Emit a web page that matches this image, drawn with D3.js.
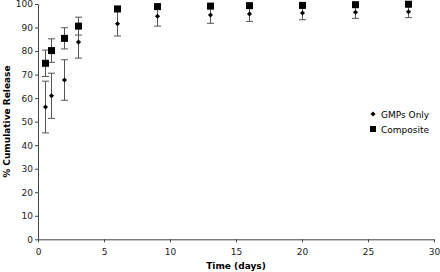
<!DOCTYPE html>
<html lang="en">
<head>
<meta charset="utf-8">
<title>Cumulative Release</title>
<script src="https://d3js.org/d3.v7.min.js"></script>
<style>
  body { margin: 0; background: #fff; }
  text { font-family: "DejaVu Sans", Verdana, sans-serif; }
</style>
</head>
<body>
<script>
// data
const days = [0.5, 1, 2, 3, 6, 9, 13, 16, 20, 24, 28];
const gmpValues = [56.2, 61.0, 67.7, 83.8, 91.6, 94.8, 95.3, 95.8, 96.2, 96.5, 96.7];
const gmpErrors = [11.0, 9.6, 8.6, 6.8, 5.2, 4.2, 3.5, 3.2, 2.9, 2.6, 2.5];
const compValues = [74.8, 80.2, 85.4, 90.6, 97.9, 98.9, 99.1, 99.3, 99.4, 99.7, 99.9];
const compErrors = [5.6, 5.0, 4.5, 3.8, 1.0, 0.8, 0.8, 0.7, 0.6, 0.5, 0.5];
const xTicks = [0, 5, 10, 15, 20, 25, 30];
const yTicks = [0, 10, 20, 30, 40, 50, 60, 70, 80, 90, 100];

const width = 440, height = 272;
const plotLeft = 38, plotRight = 434, plotTop = 4, plotBottom = 239.3;

const svg = d3.select("body").append("svg")
    .attr("width", width)
    .attr("height", height);

const x = d3.scaleLinear().domain([0, 30]).range([plotLeft, plotRight]);
const y = d3.scaleLinear().domain([0, 100]).range([plotBottom, plotTop]);

// axes
const xAxis = svg.append("g")
    .attr("transform", "translate(0," + plotBottom + ")")
    .call(d3.axisBottom(x).tickValues(xTicks).tickSize(3).tickSizeOuter(0));
const yAxis = svg.append("g")
    .attr("transform", "translate(" + plotLeft + ",0)")
    .call(d3.axisLeft(y).tickValues(yTicks).tickSize(3).tickSizeOuter(0));

[xAxis, yAxis].forEach(g => {
    g.select(".domain").attr("stroke", "#444");
    g.selectAll(".tick line").attr("stroke", "#444");
    g.selectAll(".tick text").attr("fill", "#222").attr("font-size", "9px")
        .attr("font-family", "DejaVu Sans, Verdana, sans-serif");
});
xAxis.selectAll(".tick text").attr("dy", "0").attr("y", 16);
yAxis.selectAll(".tick text").attr("x", -5);

// axis titles
svg.append("text")
    .attr("x", (plotLeft + plotRight) / 2)
    .attr("y", 269)
    .attr("text-anchor", "middle")
    .attr("font-size", "9px")
    .attr("font-weight", "bold")
    .text("Time (days)");

svg.append("text")
    .attr("transform", "translate(10," + ((plotTop + plotBottom) / 2) + ") rotate(-90)")
    .attr("text-anchor", "middle")
    .attr("font-size", "9px")
    .attr("font-weight", "bold")
    .text("% Cumulative Release");

// error bars
function errorBars(vals, errs, cls) {
    const g = svg.append("g").attr("class", cls).attr("stroke", "#555").attr("stroke-width", 1);
    days.forEach((d, i) => {
        const cx = Math.round(x(d)) + 0.5;
        const y1 = y(vals[i] + errs[i]), y2 = y(vals[i] - errs[i]);
        g.append("line").attr("x1", cx).attr("x2", cx).attr("y1", y1).attr("y2", y2);
        g.append("line").attr("x1", cx - 3.5).attr("x2", cx + 3.5).attr("y1", y1).attr("y2", y1);
        g.append("line").attr("x1", cx - 3.5).attr("x2", cx + 3.5).attr("y1", y2).attr("y2", y2);
    });
}
errorBars(gmpValues, gmpErrors, "err-gmp");
errorBars(compValues, compErrors, "err-comp");

// markers - diamond is a small square turned 45 degrees
const diamond = d3.symbol().type(d3.symbolSquare).size(13);
svg.selectAll(".gmp")
    .data(days)
    .enter()
    .append("path")
    .attr("class", "gmp")
    .attr("d", diamond)
    .attr("transform", (d, i) => "translate(" + (Math.round(x(d)) + 0.5) + "," + y(gmpValues[i]) + ") rotate(45)")
    .attr("fill", "#000");

svg.selectAll(".comp")
    .data(days)
    .enter()
    .append("rect")
    .attr("class", "comp")
    .attr("x", d => Math.round(x(d)) + 0.5 - 3.5)
    .attr("y", (d, i) => y(compValues[i]) - 3.5)
    .attr("width", 7)
    .attr("height", 7)
    .attr("fill", "#000");

// legend
const legend = svg.append("g").attr("transform", "translate(373,114)");
legend.append("path").attr("d", diamond).attr("transform", "rotate(45)").attr("fill", "#000");
legend.append("text").attr("x", 8).attr("y", 3.5).attr("font-size", "9px").text("GMPs Only");
legend.append("rect").attr("x", -3).attr("y", 12).attr("width", 6).attr("height", 6).attr("fill", "#000");
legend.append("text").attr("x", 8).attr("y", 18.5).attr("font-size", "9px").text("Composite");
</script>
</body>
</html>
